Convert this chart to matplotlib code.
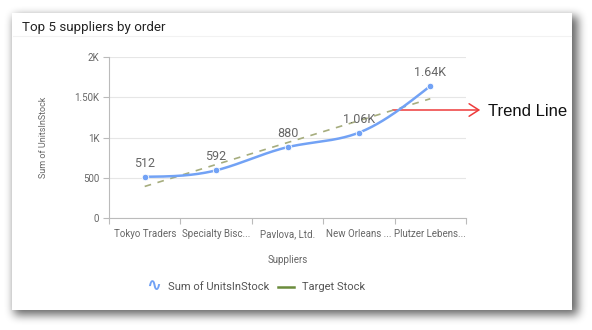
import numpy as np
import matplotlib
matplotlib.use("Agg")
import matplotlib.pyplot as plt
from matplotlib.patches import Rectangle
from matplotlib.lines import Line2D

# data
suppliers = ["Tokyo Traders", "Specialty Bisc...", "Pavlova, Ltd.", "New Orleans ...", "Plutzer Lebens..."]
units_in_stock = [512, 592, 880, 1060, 1640]
point_labels = ["512", "592", "880", "1.06K", "1.64K"]
y_ticks = [0, 500, 1000, 1500, 2000]
y_tick_labels = ["0", "500", "1K", "1.50K", "2K"]

W, H = 592, 330
plt.rcParams['font.family'] = ['Roboto', 'DejaVu Sans']

fig = plt.figure(figsize=(W / 100, H / 100), dpi=100)
fig.patch.set_facecolor("white")

# background layer in pixel coords: card + soft shadow
bg = fig.add_axes([0, 0, 1, 1])
bg.set_xlim(0, W)
bg.set_ylim(H, 0)
bg.axis("off")

card = (12, 13, 572, 310)
mask = np.zeros((H, W))
mask[card[1] + 3:card[3] + 5, card[0] + 2:card[2] + 6] = 1.0
k = np.ones(9) / 9.0
for _ in range(3):
    mask = np.apply_along_axis(lambda r: np.convolve(r, k, mode="same"), 1, mask)
    mask = np.apply_along_axis(lambda c: np.convolve(c, k, mode="same"), 0, mask)
rgba = np.zeros((H, W, 4))
rgba[..., 3] = 0.6 * mask
bg.imshow(rgba, extent=(0, W, H, 0), zorder=0, interpolation="bilinear")
bg.add_patch(Rectangle((card[0], card[1]), card[2] - card[0], card[3] - card[1],
                       facecolor="white", edgecolor="none", zorder=1))
bg.plot([card[0] + 1, card[2] - 1], [36, 36], color="#f2f2f2", lw=0.8, zorder=2)
bg.text(22, 27, "Top 5 suppliers by order", fontsize=9.6, color="#222222",
        va="center", ha="left", zorder=3)

# chart
ax = fig.add_axes([109 / W, 1 - 218 / H, (466 - 109) / W, (218 - 57) / H])
ax.set_facecolor("none")
x = np.arange(len(suppliers))
y = np.array(units_in_stock, dtype=float)

# natural cubic spline through the points
n = len(x)
A = np.zeros((n, n))
b = np.zeros(n)
A[0, 0] = A[-1, -1] = 1
for i in range(1, n - 1):
    A[i, i - 1], A[i, i], A[i, i + 1] = 1, 4, 1
    b[i] = 6 * (y[i + 1] - 2 * y[i] + y[i - 1])
M = np.linalg.solve(A, b)
xs, ys = [], []
for i in range(n - 1):
    t = np.linspace(0, 1, 40)
    seg = ((1 - t) * y[i] + t * y[i + 1]
           + ((1 - t) ** 3 - (1 - t)) * M[i] / 6 + (t ** 3 - t) * M[i + 1] / 6)
    xs.append(x[i] + t)
    ys.append(seg)
xs = np.concatenate(xs)
ys = np.concatenate(ys)

blue = "#72a2f5"
ax.plot(xs, ys, color=blue, lw=1.8, zorder=3, solid_capstyle="round")
ax.scatter(x, y, s=22, color=blue, zorder=4, edgecolors="white", linewidths=0.6)

# linear trend
slope, icpt = np.polyfit(x, y, 1)
ax.plot(x, slope * x + icpt, color="#a6ad7e", lw=1.2, ls=(0, (4, 4)), zorder=2)

for xi, yi, lab in zip(x, y, point_labels):
    ax.annotate(lab, (xi, yi), xytext=(0, 5), textcoords="offset points",
                ha="center", va="bottom", fontsize=9, color="#666666", zorder=5)

ax.set_xlim(-0.5, len(suppliers) - 0.5)
ax.set_ylim(0, 2000)
ax.set_yticks(y_ticks)
ax.set_yticklabels(y_tick_labels)
ax.set_xticks(np.arange(len(suppliers) + 1) - 0.5)
ax.set_xticklabels([])
ax.set_xticks(x, minor=True)
ax.set_xticklabels(suppliers, minor=True, va="baseline")
ax.tick_params(axis="x", which="minor", length=0, labelsize=7, colors="#666666", pad=14)
ax.tick_params(axis="x", which="major", length=4, color="#bbbbbb")
ax.tick_params(axis="y", length=4, color="#bbbbbb", labelsize=7, labelcolor="#666666", pad=3)
ax.grid(axis="y", color="#e6e6e6", lw=0.8)
ax.set_axisbelow(True)
for s in ["top", "right"]:
    ax.spines[s].set_visible(False)
for s in ["left", "bottom"]:
    ax.spines[s].set_color("#bbbbbb")
    ax.spines[s].set_linewidth(0.8)
ax.set_xlabel("Suppliers", fontsize=7, color="#666666", labelpad=11)
ax.set_ylabel("Sum of UnitsInStock", fontsize=6.5, color="#666666", labelpad=19)

# legend
bg.text(146, 286, "∿", fontsize=13, color=blue, fontweight="bold", va="center", ha="left",
        family=["DejaVu Sans"], zorder=3)
bg.text(168, 287, "Sum of UnitsInStock", fontsize=8, color="#555555", va="center", ha="left", zorder=3)
bg.add_line(Line2D([278, 294], [287, 287], color="#6b8c3c", lw=1.8, zorder=3))
bg.text(302, 287, "Target Stock", fontsize=8, color="#555555", va="center", ha="left", zorder=3)

# callout
bg.annotate("", xy=(483, 110), xytext=(390, 110),
            arrowprops=dict(arrowstyle="->,head_length=0.7,head_width=0.45",
                            color="#ee3b3b", lw=1.1), zorder=6)
bg.text(488, 111, "Trend Line", fontsize=12, color="#111111", va="center", ha="left",
        family=["Liberation Sans"], zorder=6)

fig.savefig("out.png", dpi=100)
